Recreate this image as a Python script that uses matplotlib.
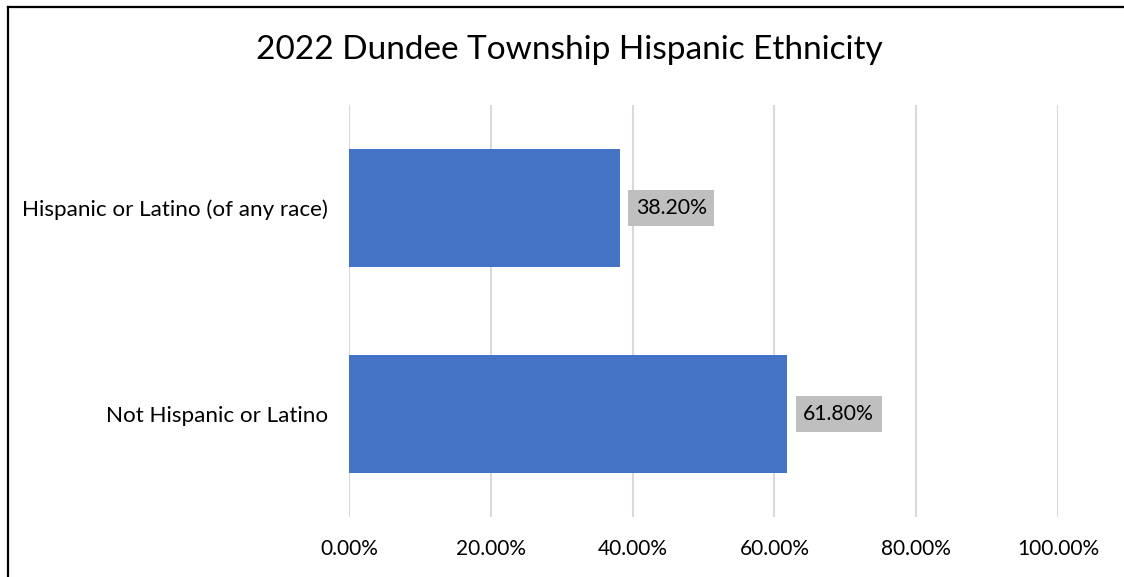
import matplotlib.pyplot as plt
from matplotlib.ticker import FuncFormatter
from matplotlib.lines import Line2D

plt.rcParams['font.family'] = ['Lato', 'DejaVu Sans']

# Data
categories = ["Hispanic or Latino (of any race)", "Not Hispanic or Latino"]
shares = [0.382, 0.618]
ticks = [0, 0.2, 0.4, 0.6, 0.8, 1.0]

blue = "#4472C4"
grid = "#D9D9D9"
box = "#BFBFBF"

fig = plt.figure(figsize=(11.24, 5.77), dpi=100)
ax = fig.add_axes([349 / 1124, 1 - 517 / 577, 709 / 1124, 412 / 577])

ax.barh(categories, shares, height=0.573, color=blue, zorder=3)
ax.set_xlim(0, 1)
ax.set_ylim(1.5, -0.5)
ax.set_xticks(ticks)
ax.xaxis.set_major_formatter(FuncFormatter(lambda x, _: f"{x * 100:.2f}%"))
ax.grid(axis='x', color=grid, linewidth=1.5, zorder=0)
for s in ax.spines.values():
    s.set_visible(False)
ax.tick_params(axis='both', length=0, labelsize=15, colors='black')
ax.tick_params(axis='x', pad=16)
ax.tick_params(axis='y', pad=15, labelsize=16.1)

# Value labels
for i, v in enumerate(shares):
    ax.annotate(f"{v * 100:.2f}%", (v, i), xytext=(16, 0), textcoords='offset pixels',
                va='center', ha='left', fontsize=15.3, zorder=4,
                bbox=dict(boxstyle='square,pad=0.36', facecolor=box, edgecolor='none'))

fig.text(569 / 1124, 1 - 50 / 577, "2022 Dundee Township Hispanic Ethnicity",
         ha='center', va='center', fontsize=24)

# Border (partially cropped chart frame)
fig.add_artist(Line2D([7.5 / 1124, 7.5 / 1124], [0, 1 - 6.5 / 577], transform=fig.transFigure,
                      color='black', linewidth=1.6))
fig.add_artist(Line2D([7.5 / 1124, 1], [1 - 6.5 / 577, 1 - 6.5 / 577], transform=fig.transFigure,
                      color='black', linewidth=1.6))

fig.savefig("out.png", dpi=100)
